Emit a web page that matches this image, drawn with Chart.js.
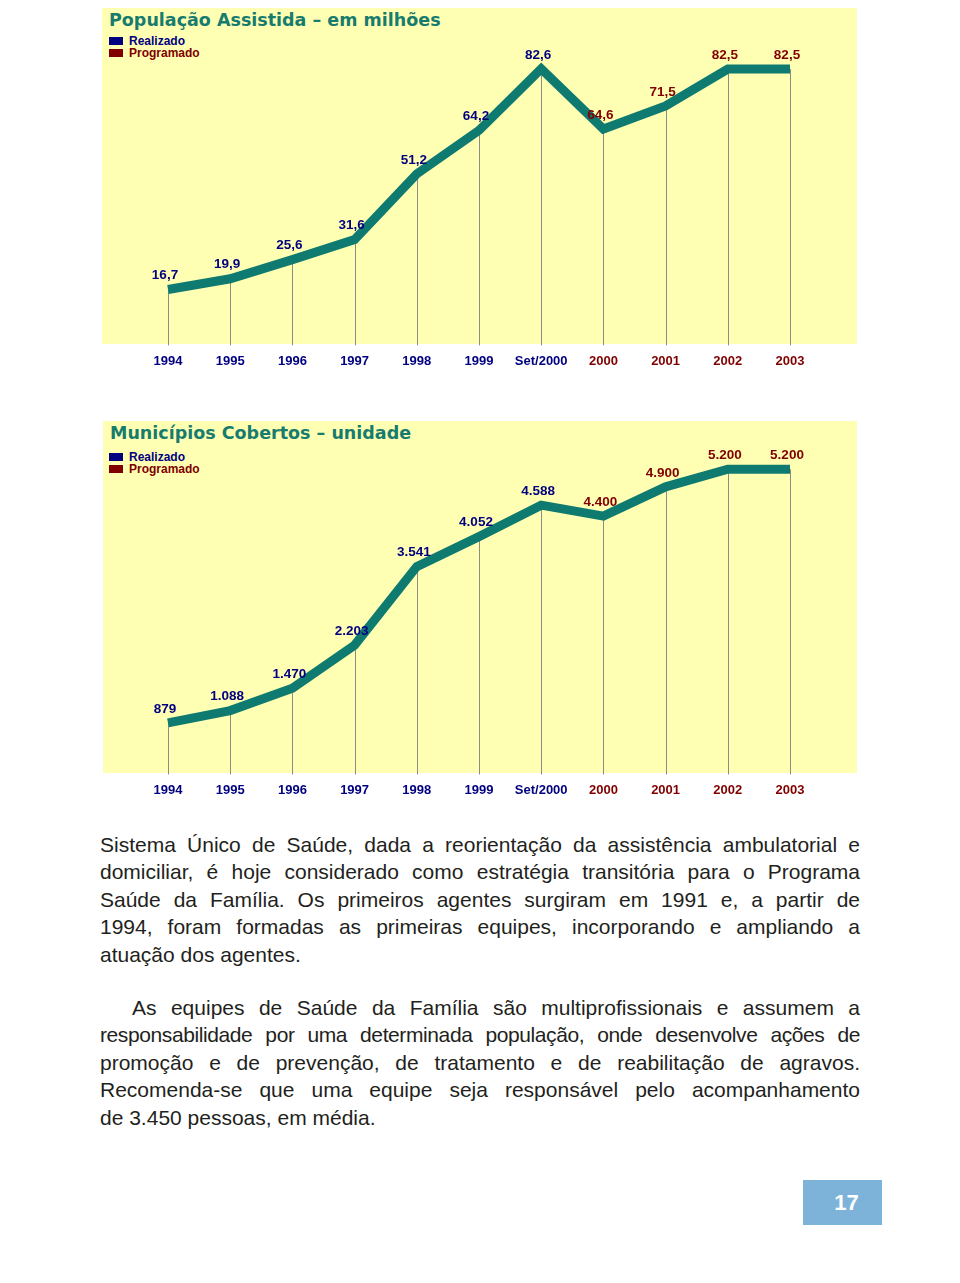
<!DOCTYPE html>
<html>
<head>
<meta charset="utf-8">
<script src="https://cdn.jsdelivr.net/npm/chart.js@4.4.0/dist/chart.umd.min.js"></script>
<style>
body { margin: 0; background: #fff; font-family: "Liberation Sans", Arial, sans-serif; }
.page { position: relative; width: 960px; height: 1283px; }
.bg { position: absolute; background: #ffffb4; }
.title { position: absolute; font-family: "DejaVu Sans", Verdana, sans-serif; font-weight: bold; font-size: 17.5px; color: #177c6e; white-space: nowrap; }
.leg { position: absolute; font-weight: bold; font-size: 12px; white-space: nowrap; }
.leg span.box { display: inline-block; width: 14px; height: 8px; margin-right: 6px; vertical-align: 0px; }
canvas { position: absolute; }
.txt { position: absolute; left: 100px; width: 760px; font-size: 21px; line-height: 27.4px; color: #231f20; }
.txt div { text-align: justify; text-align-last: justify; white-space: nowrap; }
.txt div.last { text-align-last: left; }
.num { position: absolute; left: 803px; top: 1180px; width: 79px; height: 45px; background: #7db3d9; box-sizing: border-box; padding-left: 8px;
       color: #fff; font-weight: bold; font-size: 22px; text-align: center; line-height: 45px; }
</style>
</head>
<body>
<div class="page">
  <div class="bg" style="left:102px;top:8px;width:755px;height:336px"></div>
  <div class="title" style="left:109px;top:10px">População Assistida – em milhões</div>
  <div class="leg" style="left:109px;top:34px;color:#000080"><span class="box" style="background:#000080"></span>Realizado</div>
  <div class="leg" style="left:109px;top:46px;color:#800000"><span class="box" style="background:#800000"></span>Programado</div>
  <canvas id="c1" width="755" height="375" style="left:102px;top:8px;width:755px;height:375px"></canvas>

  <div class="bg" style="left:103px;top:421px;width:754px;height:352px"></div>
  <div class="title" style="left:110px;top:423px">Municípios Cobertos – unidade</div>
  <div class="leg" style="left:109px;top:450px;color:#000080"><span class="box" style="background:#000080"></span>Realizado</div>
  <div class="leg" style="left:109px;top:462px;color:#800000"><span class="box" style="background:#800000"></span>Programado</div>
  <canvas id="c2" width="754" height="389" style="left:103px;top:421px;width:754px;height:389px"></canvas>

  <div class="txt" style="top:831px">
    <div>Sistema Único de Saúde, dada a reorientação da assistência ambulatorial e</div>
    <div>domiciliar, é hoje considerado como estratégia transitória para o Programa</div>
    <div>Saúde da Família. Os primeiros agentes surgiram em 1991 e, a partir de</div>
    <div>1994, foram formadas as primeiras equipes, incorporando e ampliando a</div>
    <div class="last">atuação dos agentes.</div>
  </div>
  <div class="txt" style="top:994px">
    <div style="padding-left:32px">As equipes de Saúde da Família são multiprofissionais e assumem a</div>
    <div style="letter-spacing:-0.4px">responsabilidade por uma determinada população, onde desenvolve ações de</div>
    <div>promoção e de prevenção, de tratamento e de reabilitação de agravos.</div>
    <div>Recomenda-se que uma equipe seja responsável pelo acompanhamento</div>
    <div class="last">de 3.450 pessoas, em média.</div>
  </div>
  <div class="num">17</div>
</div>
<script>
const categories = ['1994', '1995', '1996', '1997', '1998', '1999', 'Set/2000', '2000', '2001', '2002', '2003'];
const populacao = [16.7, 19.9, 25.6, 31.6, 51.2, 64.2, 82.6, 64.6, 71.5, 82.5, 82.5];
const municipios = [879, 1088, 1470, 2203, 3541, 4052, 4588, 4400, 4900, 5200, 5200];
const realizadoCount = 7; // 1994 .. Set/2000 are realized, the rest programmed

const navy = '#000080';
const darkRed = '#800000';
const teal = '#0f7b70';

function fmtDecimal(v) { return v.toFixed(1).replace('.', ','); }
function fmtThousands(v) { return String(v).replace(/\B(?=(\d{3})+(?!\d))/g, '.'); }

function colorFor(i) { return i < realizadoCount ? navy : darkRed; }

const dropLines = {
    id: 'dropLines',
    beforeDatasetsDraw(chart) {
        const ctx = chart.ctx;
        const bottom = chart.chartArea.bottom;
        ctx.save();
        ctx.strokeStyle = '#8c8c8c';
        ctx.lineWidth = 1;
        chart.getDatasetMeta(0).data.forEach(pt => {
            ctx.beginPath();
            ctx.moveTo(Math.round(pt.x) + 0.5, pt.y);
            ctx.lineTo(Math.round(pt.x) + 0.5, bottom);
            ctx.stroke();
        });
        ctx.restore();
    }
};

const valueLabels = {
    id: 'valueLabels',
    afterDatasetsDraw(chart, args, opts) {
        const ctx = chart.ctx;
        const ds = chart.data.datasets[0];
        ctx.save();
        ctx.font = 'bold 13.5px "Liberation Sans", Arial, sans-serif';
        ctx.textAlign = 'center';
        ctx.textBaseline = 'middle';
        chart.getDatasetMeta(0).data.forEach((pt, i) => {
            ctx.fillStyle = colorFor(i);
            ctx.fillText(opts.format(ds.data[i]), pt.x - 3, pt.y - 14);
        });
        ctx.restore();
    }
};

function makeChart(id, values, maxY, pad, format) {
    return new Chart(document.getElementById(id).getContext('2d'), {
        type: 'line',
        data: {
            labels: categories,
            datasets: [{
                data: values,
                borderColor: teal,
                borderWidth: 9,
                pointRadius: 0,
                tension: 0,
                borderJoinStyle: 'miter',
                borderCapStyle: 'butt'
            }]
        },
        options: {
            responsive: false,
            animation: false,
            layout: { padding: pad },
            plugins: {
                legend: { display: false },
                tooltip: { enabled: false },
                valueLabels: { format: format }
            },
            scales: {
                x: {
                    offset: false,
                    grid: { display: false, drawTicks: false },
                    border: { display: false },
                    ticks: {
                        padding: 8,
                        maxRotation: 0,
                        autoSkip: false,
                        font: { family: '"Liberation Sans", Arial, sans-serif', size: 13, weight: 'bold' },
                        color: ctx => colorFor(ctx.index)
                    }
                },
                y: { display: false, min: 0, max: maxY }
            }
        },
        plugins: [dropLines, valueLabels]
    });
}

makeChart('c1', populacao, 90, { left: 66, right: 67, top: 36, bottom: 6 }, fmtDecimal);
makeChart('c2', municipios, 5800, { left: 65, right: 67, top: 13, bottom: 4 }, fmtThousands);
</script>
</body>
</html>
